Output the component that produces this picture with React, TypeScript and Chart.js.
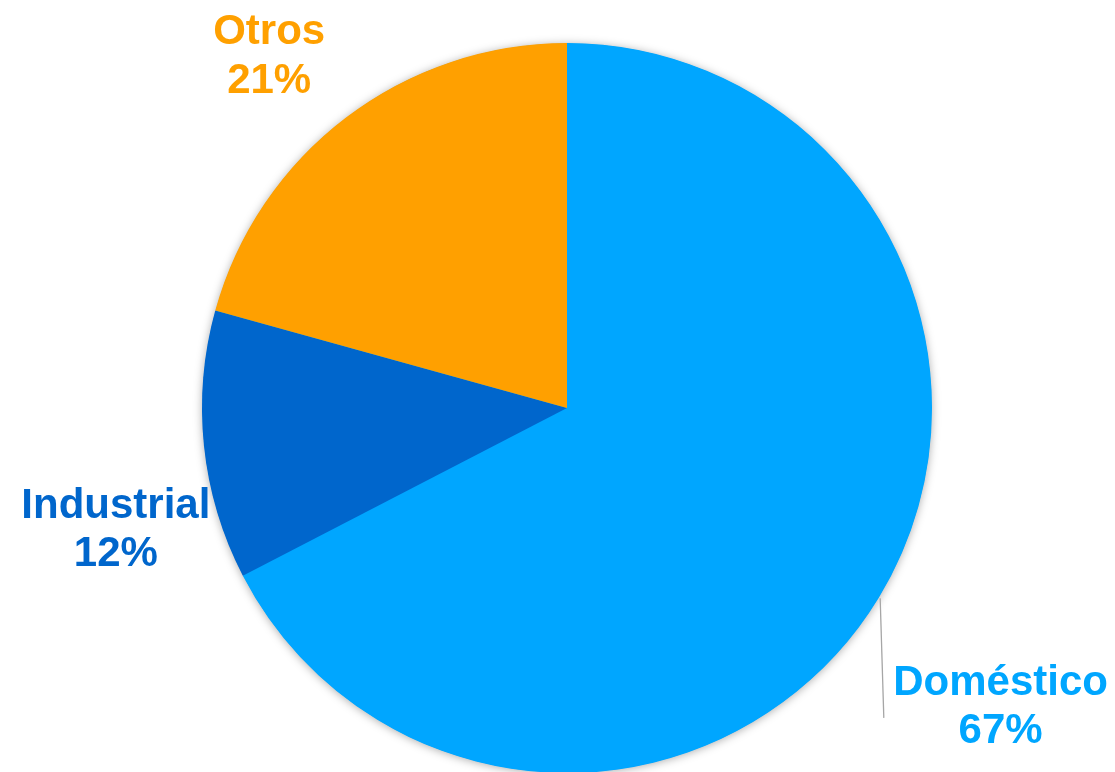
import React, { useEffect, useRef } from "react";
import { Chart, registerables } from "chart.js";

Chart.register(...registerables);

const categories = ["Doméstico", "Industrial", "Otros"];
const values = [67.4, 11.9, 20.7];
const percentLabels = ["67%", "12%", "21%"];
const colors = ["#00A6FF", "#0066CC", "#FFA000"];
// label anchor (centre x, first baseline y) in units of the pie radius, from the pie centre
const labelOffsets = [
  [1.188, 0.786],
  [-1.236, 0.301],
  [-0.816, -0.997],
];

const W = 1115;
const H = 780;

const shadowPlugin = {
  id: "pieShadow",
  beforeDatasetsDraw(chart: any) {
    const meta = chart.getDatasetMeta(0);
    const arc = meta.data[0];
    if (!arc) return;
    const { x, y, outerRadius } = arc.getProps(["x", "y", "outerRadius"], true);
    const ctx = chart.ctx;
    ctx.save();
    ctx.shadowColor = "rgba(0,0,0,0.35)";
    ctx.shadowBlur = 10;
    ctx.shadowOffsetX = 0;
    ctx.shadowOffsetY = 1;
    ctx.fillStyle = colors[0];
    ctx.beginPath();
    ctx.arc(x, y, outerRadius - 0.5, 0, Math.PI * 2);
    ctx.fill();
    ctx.restore();
  },
};

const labelPlugin = {
  id: "outerLabels",
  afterDatasetsDraw(chart: any) {
    const meta = chart.getDatasetMeta(0);
    const ctx = chart.ctx;
    const first = meta.data[0];
    if (!first) return;
    const { x: cx, y: cy, outerRadius: r } = first.getProps(["x", "y", "outerRadius"], true);

    // leader line for the first slice
    ctx.save();
    ctx.strokeStyle = "#A6A6A6";
    ctx.lineWidth = 1.3;
    ctx.beginPath();
    ctx.moveTo(cx + 0.858 * r, cy + 0.521 * r);
    ctx.lineTo(cx + 0.868 * r, cy + 0.849 * r);
    ctx.stroke();
    ctx.restore();

    ctx.save();
    ctx.font = "bold 42px 'Liberation Sans', Arial, sans-serif";
    ctx.textAlign = "center";
    ctx.textBaseline = "alphabetic";
    categories.forEach((name, i) => {
      const lx = cx + labelOffsets[i][0] * r;
      const ly = cy + labelOffsets[i][1] * r;
      ctx.fillStyle = colors[i];
      ctx.fillText(name, lx, ly);
      ctx.fillText(percentLabels[i], lx, ly + 48.5);
    });
    ctx.restore();
  },
};

export default function App() {
  const ref = useRef<HTMLCanvasElement | null>(null);
  useEffect(() => {
    if (!ref.current) return;
    const chart = new Chart(ref.current, {
      type: "pie",
      data: {
        labels: categories,
        datasets: [
          {
            data: values,
            backgroundColor: colors,
            borderWidth: 0,
          },
        ],
      },
      options: {
        responsive: false,
        animation: false,
        layout: { padding: { top: 43, bottom: 7, left: 202, right: 183 } },
        plugins: {
          legend: { display: false },
          tooltip: { enabled: false },
        },
      },
      plugins: [shadowPlugin, labelPlugin],
    });
    return () => chart.destroy();
  }, []);
  return (
    <div style={{ position: "fixed", left: 0, top: 0, width: W, height: 772, overflow: "hidden", background: "#fff" }}>
      <canvas ref={ref} width={W} height={H} style={{ display: "block", width: W, height: H }} />
    </div>
  );
}
